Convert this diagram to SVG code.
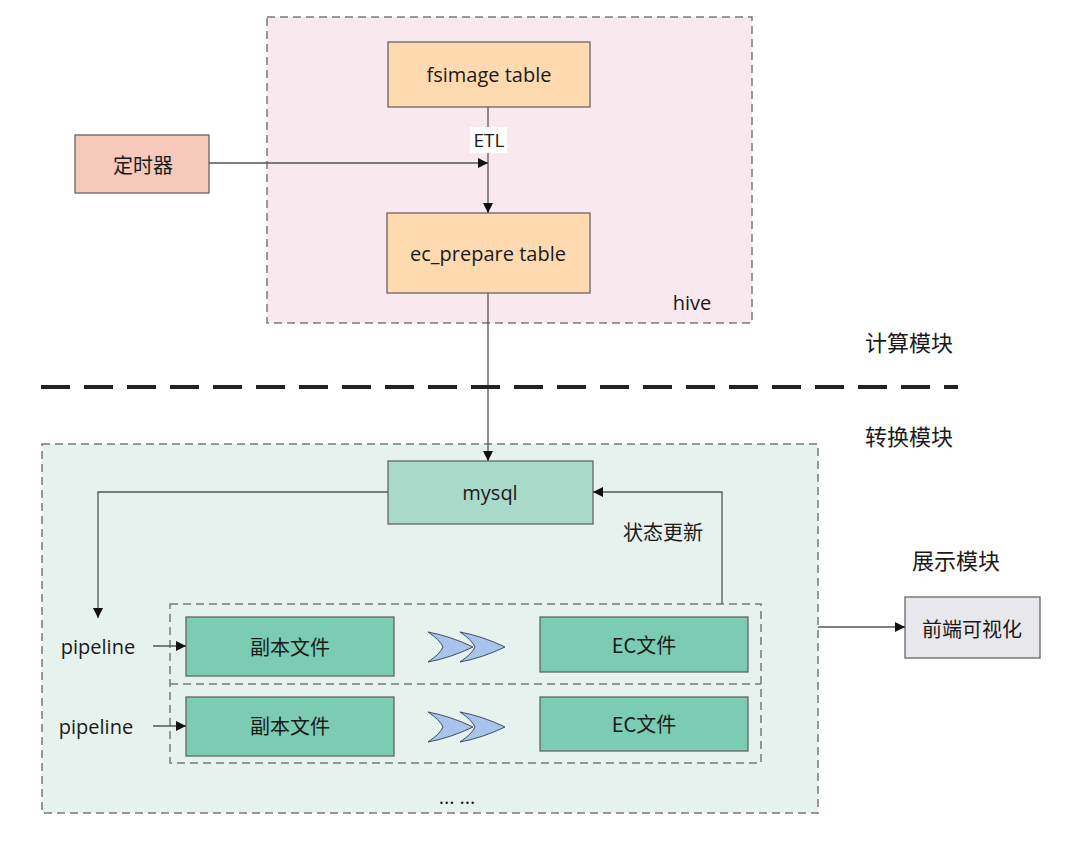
<svg xmlns="http://www.w3.org/2000/svg" width="1080" height="845" viewBox="0 0 1080 845">
<style>
text{font-family:"Open Sans","Noto Sans","Noto Sans CJK SC",sans-serif;fill:#1a1a1a;text-anchor:middle;dominant-baseline:central;font-weight:500}
.cjk{font-family:"Noto Sans CJK SC","Noto Sans",sans-serif;font-weight:400}
.cont{stroke:#7a7a7a;stroke-width:1.5;stroke-dasharray:8 5}
.box{stroke:#666;stroke-width:1.3}
.ln{fill:none;stroke:#555;stroke-width:1.3}
</style>
<defs>
<marker id="ah" viewBox="0 0 10 10" refX="10" refY="5" markerWidth="10" markerHeight="10" markerUnits="userSpaceOnUse" orient="auto">
<path d="M0,0 L10,5 L0,10 Z" fill="#111"/>
</marker>
<g id="chev">
<path d="M0,0 Q22,4 45,15 Q22,26 0,30 Q12,22 15,15 Q12,8 0,0 Z" fill="#a9c4eb" stroke="#3f4f6a" stroke-width="1"/>
</g>
</defs>
<rect width="1080" height="845" fill="#fff"/>

<g id="hive">
<rect x="267" y="17" width="485" height="306" fill="#f9e8ee" class="cont"/>
<text x="692" y="302" font-size="20">hive</text>
</g>
<g id="transform">
<rect x="42" y="444" width="776" height="369" fill="#e6f2ee" class="cont"/>
</g>
<g id="pipelines">
<rect x="170" y="604" width="591" height="159" fill="none" class="cont"/>
<line x1="170" y1="684" x2="761" y2="684" class="cont"/>
</g>

<g id="fsimage">
<rect x="388" y="42" width="202" height="65" fill="#ffdab0" class="box"/>
<text x="489" y="74" font-size="20">fsimage table</text>
</g>
<g id="ecprepare">
<rect x="387" y="213" width="203" height="80" fill="#ffdab0" class="box"/>
<text x="488" y="253" font-size="20">ec_prepare table</text>
</g>
<g id="timer">
<rect x="75" y="135" width="134" height="58" fill="#f6c9bb" class="box"/>
<text x="143" y="164" font-size="20" class="cjk">定时器</text>
</g>
<g id="mysql">
<rect x="388" y="461" width="205" height="63" fill="#a9dac9" class="box"/>
<text x="490" y="492" font-size="20">mysql</text>
</g>
<g id="copy1">
<rect x="186" y="617" width="208" height="59" fill="#7bccb3" class="box"/>
<text x="290" y="646" font-size="20" class="cjk">副本文件</text>
</g>
<g id="ec1">
<rect x="540" y="617" width="208" height="55" fill="#7bccb3" class="box"/>
<text x="644" y="644" font-size="20" class="cjk">EC文件</text>
</g>
<g id="copy2">
<rect x="186" y="697" width="208" height="59" fill="#7bccb3" class="box"/>
<text x="290" y="725" font-size="20" class="cjk">副本文件</text>
</g>
<g id="ec2">
<rect x="540" y="697" width="208" height="54" fill="#7bccb3" class="box"/>
<text x="644" y="723" font-size="20" class="cjk">EC文件</text>
</g>
<g id="frontend">
<rect x="905" y="597" width="135" height="61" fill="#e8e8ec" class="box"/>
<text x="972" y="628" font-size="20" class="cjk">前端可视化</text>
</g>
<g id="chevrons">
<use href="#chev" x="428" y="632"/>
<use href="#chev" x="460" y="632"/>
<use href="#chev" x="428" y="712"/>
<use href="#chev" x="460" y="712"/>
</g>

<g id="connectors">
<line x1="488" y1="107" x2="488" y2="213" class="ln" marker-end="url(#ah)"/>
<rect x="470" y="127" width="37" height="26" fill="#fff"/>
<text x="489" y="140" font-size="19">ETL</text>
<line x1="209" y1="163" x2="488" y2="163" class="ln" marker-end="url(#ah)"/>
<line x1="488" y1="293" x2="488" y2="461" class="ln" marker-end="url(#ah)"/>
<polyline points="388,492 98,492 98,618" class="ln" marker-end="url(#ah)"/>
<polyline points="722,604 722,492 593,492" class="ln" marker-end="url(#ah)"/>
<line x1="153" y1="646" x2="186" y2="646" class="ln" marker-end="url(#ah)"/>
<line x1="153" y1="726" x2="186" y2="726" class="ln" marker-end="url(#ah)"/>
<line x1="818" y1="627" x2="905" y2="627" class="ln" marker-end="url(#ah)"/>
</g>

<g id="labels">
<text x="663" y="531" font-size="20" class="cjk">状态更新</text>
<text x="98" y="646" font-size="20">pipeline</text>
<text x="96" y="726" font-size="20">pipeline</text>
<text x="457" y="796" font-size="20">... ...</text>
<text x="909" y="341" font-size="22" class="cjk">计算模块</text>
<text x="909" y="435" font-size="22" class="cjk">转换模块</text>
<text x="956" y="559" font-size="22" class="cjk">展示模块</text>
</g>
<line id="divider" x1="41" y1="387" x2="958" y2="387" stroke="#222" stroke-width="4" stroke-dasharray="29 14"/>
</svg>
